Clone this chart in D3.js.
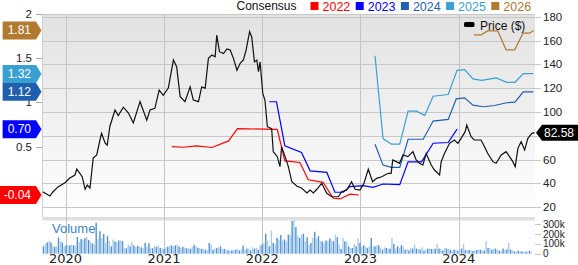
<!DOCTYPE html>
<html lang="en">

<head>
  <meta charset="UTF-8" />
  <script src="https://d3js.org/d3.v7.min.js"></script>
  <style>
    body {
      margin: 0;
      background-color: #fff;
      overflow: hidden;
    }

    svg {
      display: block;
      font-family: "Liberation Sans", Arial, sans-serif;
    }
  </style>
</head>

<body>
  <svg width="578" height="265"></svg>

  <script>
    // price, weekly-ish closes
    const price = [
      ["2019-10-08", 33], ["2019-11-04", 29.3], ["2019-11-15", 32.7], ["2019-12-04", 37], ["2019-12-30", 40.5],
      ["2020-01-17", 44.4], ["2020-02-05", 47], ["2020-02-12", 52], ["2020-03-03", 45.6], ["2020-03-14", 35],
      ["2020-03-22", 38.6], ["2020-04-01", 36], ["2020-04-13", 61.3], ["2020-04-26", 63.8], ["2020-05-08", 76.4],
      ["2020-05-14", 82], ["2020-05-27", 74], ["2020-06-04", 72], ["2020-06-14", 88], ["2020-07-03", 101.6],
      ["2020-07-15", 97], ["2020-08-03", 104], ["2020-08-22", 99], ["2020-09-09", 90.7], ["2020-10-04", 108.6],
      ["2020-10-29", 93], ["2020-11-10", 101.6], ["2020-11-28", 103], ["2020-12-14", 118.4], ["2020-12-29", 114],
      ["2021-01-17", 120], ["2021-02-05", 143.6], ["2021-02-17", 138], ["2021-03-02", 112.8], ["2021-03-20", 108.6],
      ["2021-04-08", 121], ["2021-04-20", 110], ["2021-05-09", 108.6], ["2021-05-21", 121], ["2021-06-03", 120],
      ["2021-06-15", 145], ["2021-06-28", 147.8], ["2021-07-10", 146.4], ["2021-07-16", 164.6], ["2021-07-26", 150.6],
      ["2021-08-10", 149], ["2021-08-23", 153], ["2021-09-04", 152], ["2021-09-16", 145], ["2021-09-29", 135],
      ["2021-10-11", 140.8], ["2021-10-23", 143.6], ["2021-11-02", 152], ["2021-11-15", 167.4], ["2021-11-23", 163],
      ["2021-12-03", 142], ["2021-12-12", 143.6], ["2021-12-18", 133.8], ["2021-12-24", 142], ["2022-01-03", 115.6],
      ["2022-01-11", 110], ["2022-01-20", 87.6], ["2022-02-05", 86], ["2022-02-11", 66.6], ["2022-02-17", 65],
      ["2022-02-26", 62.4], ["2022-03-08", 54], ["2022-03-14", 70.8], ["2022-03-27", 62.4], ["2022-04-08", 54],
      ["2022-04-21", 41.3], ["2022-05-09", 37.7], ["2022-05-28", 35.8], ["2022-06-16", 32], ["2022-06-28", 34.4],
      ["2022-07-10", 32], ["2022-07-23", 35], ["2022-08-10", 40], ["2022-08-29", 31.6], ["2022-09-16", 28.7],
      ["2022-10-11", 28.7], ["2022-10-23", 33], ["2022-11-11", 34.4], ["2022-11-29", 41.3], ["2022-12-12", 35],
      ["2022-12-30", 34.4], ["2023-01-14", 40], ["2023-01-30", 51.8], ["2023-02-15", 41.3], ["2023-03-02", 44.2],
      ["2023-03-21", 45.5], ["2023-04-14", 48.4], ["2023-04-25", 48.4], ["2023-05-01", 59.6], ["2023-05-14", 58.2],
      ["2023-05-26", 56.8], ["2023-06-08", 63.8], ["2023-06-26", 62.4], ["2023-07-15", 66.6], ["2023-07-27", 59.6],
      ["2023-08-08", 56.8], ["2023-08-21", 55.4], ["2023-09-02", 65], ["2023-09-21", 55.4], ["2023-10-03", 51.2],
      ["2023-10-22", 47], ["2023-10-28", 58.2], ["2023-11-09", 65], ["2023-11-28", 73.6], ["2023-12-16", 76.4],
      ["2023-12-29", 73.6], ["2024-01-10", 77.8], ["2024-01-25", 83.4], ["2024-01-31", 89], ["2024-02-16", 79.2],
      ["2024-02-28", 76.4], ["2024-03-24", 76.4], ["2024-04-06", 70.8], ["2024-04-18", 65], ["2024-05-07", 58.2],
      ["2024-05-19", 56.8], ["2024-06-07", 63.8], ["2024-06-25", 66.6], ["2024-07-08", 62.4], ["2024-07-20", 58.2],
      ["2024-07-29", 54], ["2024-08-08", 69.4], ["2024-08-20", 75], ["2024-09-02", 68], ["2024-09-14", 77.8],
      ["2024-09-29", 82], ["2024-10-09", 82.58]
    ];

    // consensus EPS estimates per fiscal year
    const eps2022 = [
      ["2021-01-30", 0.505], ["2021-03-14", 0.497], ["2021-05-03", 0.512], ["2021-06-28", 0.494], ["2021-08-29", 0.568],
      ["2021-10-01", 0.706], ["2022-02-17", 0.698], ["2022-02-26", 0.698], ["2022-03-26", 0.344], ["2022-05-21", 0.326],
      ["2022-06-21", 0.132], ["2022-08-15", 0.103], ["2022-09-22", -0.076], ["2022-10-17", -0.084], ["2022-11-23", -0.03],
      ["2022-12-26", -0.04]
    ];
    const eps2023 = [
      ["2022-01-27", 1.008], ["2022-02-23", 1.008], ["2022-03-26", 0.512], ["2022-05-27", 0.438], ["2022-06-28", 0.232],
      ["2022-08-29", 0.214], ["2022-09-28", -0.009], ["2022-10-29", -0.009], ["2022-11-23", 0.054], ["2023-01-11", 0.065],
      ["2023-02-17", 0.047], ["2023-03-26", 0.084], ["2023-05-27", 0.076], ["2023-06-27", 0.333], ["2023-08-16", 0.333],
      ["2023-09-28", 0.542], ["2023-11-23", 0.55], ["2023-12-26", 0.70]
    ];
    const eps2024 = [
      ["2023-02-24", 0.531], ["2023-03-26", 0.296], ["2023-04-26", 0.27], ["2023-05-27", 0.27], ["2023-06-27", 0.587],
      ["2023-08-22", 0.587], ["2023-09-28", 0.791], ["2023-11-23", 0.81], ["2023-12-23", 1.041], ["2024-01-23", 1.052],
      ["2024-02-23", 0.97], ["2024-04-01", 0.952], ["2024-05-14", 0.966], ["2024-06-27", 0.997], ["2024-07-28", 1.003],
      ["2024-08-28", 1.12], ["2024-10-04", 1.12]
    ];
    const eps2025 = [
      ["2023-02-24", 1.525], ["2023-03-26", 0.594], ["2023-04-26", 0.531], ["2023-05-27", 0.531], ["2023-06-27", 0.903],
      ["2023-07-28", 0.903], ["2023-08-28", 0.855], ["2023-09-28", 1.07], ["2023-11-23", 1.089], ["2023-12-26", 1.361],
      ["2024-01-23", 1.369], ["2024-02-23", 1.265], ["2024-03-26", 1.249], ["2024-05-20", 1.276], ["2024-06-27", 1.227],
      ["2024-07-28", 1.227], ["2024-08-28", 1.324], ["2024-10-04", 1.324]
    ];
    const eps2026 = [
      ["2024-02-26", 1.76], ["2024-03-24", 1.76], ["2024-04-18", 1.804], ["2024-05-25", 1.804], ["2024-06-25", 1.592],
      ["2024-07-27", 1.592], ["2024-08-27", 1.779], ["2024-09-20", 1.779], ["2024-10-06", 1.81]
    ];

    const years = ["2022", "2023", "2024", "2025", "2026"];
    const yearColors = ["#ff0000", "#0000ff", "#1f5fae", "#3aa0d2", "#b07b30"];
    const latestEps = [-0.04, 0.70, 1.12, 1.32, 1.81];
    const lastPrice = 82.58;

    // weekly volume in thousands, starting 2019-10-11
    const volumeStart = "2019-10-11";
    const volume = [
      75, 100, 115, 130, 115, 80, 70, 75, 165, 125, 115, 70,
      85, 85, 85, 90, 85, 80, 170, 120, 150, 140, 160, 170, 140, 120,
      105, 95, 316, 150, 230, 160, 200, 110, 180, 130, 75, 145, 125, 120, 135,
      135, 130, 60, 55, 95, 75, 120, 85, 70, 80, 75, 65, 55, 110, 70,
      105, 60, 55, 80, 70, 85, 60, 55, 45, 65, 70, 80, 85, 75, 85,
      95, 75, 60, 70, 60, 55, 55, 50, 70, 90, 75, 60, 55, 50, 45, 40,
      35, 110, 93, 41, 52, 58, 65, 75, 48, 48, 41, 34, 31, 34, 38, 41, 48, 34, 41, 83,
      41, 52, 52, 34, 65, 52, 58, 41, 86, 93, 110, 203, 134, 75, 237, 110, 93, 162, 145, 190,
      134, 145, 127, 196, 190, 334, 340, 272, 179, 162, 196, 203, 127, 169, 93, 110, 162, 224, 155, 179,
      127, 127, 110, 134, 134, 155, 134, 127, 196, 169, 93, 48, 162, 127, 120, 75, 58, 58, 100, 75,
      155, 110, 75, 85, 70, 60,
      76, 162, 76, 76, 86, 86, 65, 41, 65, 58, 52, 52, 162, 100, 52, 76, 58, 86, 76, 41,
      48, 34, 58, 52, 93, 52, 48, 41, 65, 31, 41, 52, 52, 48, 48, 52, 100, 52, 48, 31,
      58, 52, 48, 41, 31, 41, 41, 31, 52, 52, 100, 38, 38, 38, 34, 28, 34, 38, 41, 41,
      34, 31, 127, 58, 58, 38, 52, 52, 38, 31, 28, 52, 38, 45, 110, 41, 31, 24, 21, 31,
      28, 24, 17, 20, 25, 30, 22
    ];

    // 80 and 0 sit under the value badges in the original, so they are not printed
    const priceTicks = [20, 40, 60, 80, 100, 120, 140, 160, 180];
    const priceLabels = [20, 40, 60, 100, 120, 140, 160, 180];
    const epsTicks = [2, 1.5, 1, 0.5];
    const volumeTicks = [0, 100, 200, 300];

    const parse = d3.timeParse("%Y-%m-%d");
    const svg = d3.select("svg");

    const pLeft = 42.5, pRight = 535, pTop = 14, pBottom = 217, vTop = 220.5, vBottom = 253.7;

    const x = d3.scaleTime()
      .domain([new Date(2020, 0, 1), new Date(2024, 0, 1)])
      .range([65.5, 458.7]);
    const yPrice = d3.scaleLinear().domain([11.7, 182.7]).range([pBottom, 13.5]);
    const yEps = d3.scaleLinear().domain([-0.287, 2]).range([pBottom, 13.5]);
    const yVol = d3.scaleLinear().domain([0, 340]).range([vBottom, vBottom - 33.3]);

    const defs = svg.append("defs");
    const grad = defs.append("linearGradient")
      .attr("id", "bg").attr("x1", 0).attr("y1", 0).attr("x2", 0).attr("y2", 1);
    grad.append("stop").attr("offset", "0%").attr("stop-color", "#e2e2e2");
    grad.append("stop").attr("offset", "100%").attr("stop-color", "#ffffff");
    defs.append("clipPath").attr("id", "clip")
      .append("rect").attr("x", pLeft).attr("y", pTop).attr("width", pRight - pLeft).attr("height", pBottom - pTop);

    svg.append("rect")
      .attr("x", pLeft).attr("y", pTop).attr("width", pRight - pLeft).attr("height", pBottom - pTop)
      .attr("fill", "url(#bg)");
    svg.append("rect")
      .attr("x", pLeft).attr("y", pBottom).attr("width", pRight - pLeft).attr("height", vTop - pBottom)
      .attr("fill", "#dedede");

    // horizontal grid + right ticks
    svg.append("g").selectAll("line")
      .data(priceTicks)
      .join("line")
      .attr("x1", pLeft).attr("x2", pRight + 6)
      .attr("y1", d => Math.round(yPrice(d)) + 0.5).attr("y2", d => Math.round(yPrice(d)) + 0.5)
      .attr("stroke", "#c8c8c8");

    // vertical grid at years
    const yearTicks = x.ticks(d3.timeYear.every(1)).filter(d => x(d) > pLeft && x(d) < pRight);
    svg.append("g").selectAll("line")
      .data(yearTicks)
      .join("line")
      .attr("x1", d => Math.round(x(d)) + 0.5).attr("x2", d => Math.round(x(d)) + 0.5)
      .attr("y1", pTop).attr("y2", vBottom + 1)
      .attr("stroke", "#c4c4c4");

    svg.append("line")
      .attr("x1", pLeft).attr("x2", pRight).attr("y1", pTop + 0.5).attr("y2", pTop + 0.5)
      .attr("stroke", "#c8c8c8");
    svg.append("line")
      .attr("x1", pLeft).attr("x2", pLeft).attr("y1", pTop).attr("y2", pBottom)
      .attr("stroke", "#d0d0d0");

    // volume bars
    const v0 = parse(volumeStart);
    svg.append("g").selectAll("rect")
      .data(volume)
      .join("rect")
      .attr("x", (d, i) => x(d3.timeWeek.offset(v0, i)) - 0.7)
      .attr("width", 1.4)
      .attr("y", d => yVol(d))
      .attr("height", d => vBottom - yVol(d))
      .attr("fill", (d, i) => i % 2 ? "#a9cbec" : "#4f92d2");

    svg.append("text")
      .attr("x", 52).attr("y", 233)
      .attr("font-size", 13).attr("fill", "#3d85c6")
      .text("Volume");

    // consensus lines
    const epsLine = d3.line()
      .x(d => x(parse(d[0])))
      .y(d => yEps(d[1]));
    const plotG = svg.append("g").attr("clip-path", "url(#clip)");
    [eps2022, eps2023, eps2024, eps2025, eps2026].forEach((s, i) => {
      plotG.append("path")
        .attr("d", epsLine(s))
        .attr("fill", "none")
        .attr("stroke", yearColors[i])
        .attr("stroke-width", 1.2);
    });

    const priceLine = d3.line()
      .x(d => x(parse(d[0])))
      .y(d => yPrice(d[1]));
    plotG.append("path")
      .attr("d", priceLine(price))
      .attr("fill", "none")
      .attr("stroke", "#111")
      .attr("stroke-width", 1.2);

    // right price axis
    svg.append("g").selectAll("text")
      .data(priceLabels)
      .join("text")
      .attr("x", 543).attr("y", d => yPrice(d) + 4)
      .attr("font-size", 11.5).attr("fill", "#222")
      .text(d => d);

    // volume axis
    svg.append("g").selectAll("line")
      .data(volumeTicks)
      .join("line")
      .attr("x1", pRight).attr("x2", pRight + 6)
      .attr("y1", d => Math.round(yVol(d)) + 0.5).attr("y2", d => Math.round(yVol(d)) + 0.5)
      .attr("stroke", "#c8c8c8");
    svg.append("g").selectAll("text")
      .data(volumeTicks)
      .join("text")
      .attr("x", 543).attr("y", d => yVol(d) + 3.5)
      .attr("font-size", 10).attr("fill", "#222")
      .text(d => d ? d + "k" : "0");

    // left eps axis
    svg.append("g").selectAll("line")
      .data(epsTicks)
      .join("line")
      .attr("x1", 36).attr("x2", pLeft)
      .attr("y1", d => Math.round(yEps(d)) + 0.5).attr("y2", d => Math.round(yEps(d)) + 0.5)
      .attr("stroke", "#aaa");
    svg.append("g").selectAll("text")
      .data(epsTicks)
      .join("text")
      .attr("x", 32).attr("y", d => yEps(d) + 4)
      .attr("text-anchor", "end")
      .attr("font-size", 11.5).attr("fill", "#222")
      .text(d => d);

    // x axis years
    svg.append("g").selectAll("text")
      .data(yearTicks)
      .join("text")
      .attr("x", d => x(d)).attr("y", 262.5)
      .attr("text-anchor", "middle")
      .attr("font-family", "'DejaVu Sans', sans-serif")
      .attr("font-size", 13).attr("fill", "#222")
      .text(d3.timeFormat("%Y"));

    // left badges with latest estimates
    latestEps.forEach((v, i) => {
      const cy = yEps(v);
      const g = svg.append("g");
      const t = g.append("text")
        .attr("x", 35 - 4).attr("y", cy + 4)
        .attr("text-anchor", "end")
        .attr("font-size", 12).attr("fill", "#fff")
        .text(v.toFixed(2));
      const w = t.node().getComputedTextLength();
      const x0 = Math.max(0, 35 - w - 9);
      g.insert("path", "text")
        .attr("d", `M${x0},${cy - 9}H36L41.5,${cy}L36,${cy + 9}H${x0}Z`)
        .attr("fill", yearColors[i]);
    });

    // right badge with last price
    const py = yPrice(lastPrice);
    svg.append("path")
      .attr("d", `M536,${py}L542,${py - 8}H578V${py + 8}H542Z`)
      .attr("fill", "#000");
    svg.append("text")
      .attr("x", 544).attr("y", py + 4)
      .attr("font-size", 12).attr("fill", "#fff")
      .text(lastPrice.toFixed(2));

    // top legend
    svg.append("text")
      .attr("x", 236.5).attr("y", 10)
      .attr("font-size", 12).attr("fill", "#111")
      .text("Consensus");
    years.forEach((yr, i) => {
      const lx = 310.5 + i * 45.2;
      svg.append("rect")
        .attr("x", lx).attr("y", 2).attr("width", 8).attr("height", 8)
        .attr("fill", yearColors[i]);
      svg.append("text")
        .attr("x", lx + 12).attr("y", 10.5)
        .attr("font-size", 12.5).attr("fill", yearColors[i])
        .text(yr);
    });

    // price legend
    svg.append("rect")
      .attr("x", 464).attr("y", 22).attr("width", 10.5).attr("height", 5).attr("rx", 1.5)
      .attr("fill", "#000");
    svg.append("text")
      .attr("x", 480).attr("y", 29.5)
      .attr("font-size", 12).attr("fill", "#111")
      .text("Price ($)");
  </script>
</body>

</html>
